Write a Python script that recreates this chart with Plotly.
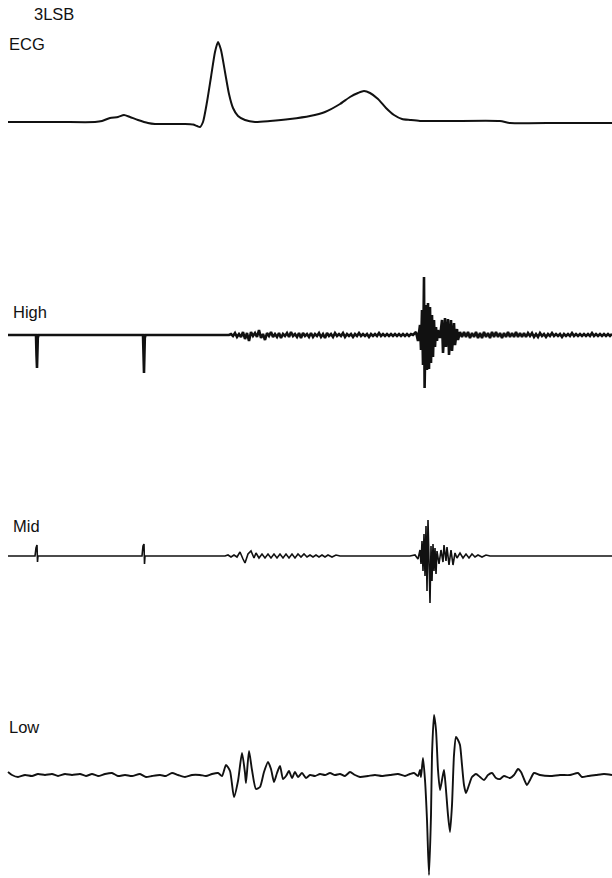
import numpy as np
import plotly.graph_objects as go

W, H = 612, 878

# ---------------- data (time in px-units, amplitude in px-units above baseline) ----
ecg_t = [8, 60, 95, 102, 110, 118, 124, 130, 138, 148, 155, 185, 193, 197, 200, 203, 207, 211,
         215, 218, 221, 225, 229, 233, 238, 245, 255, 270, 290, 310, 325, 340, 350, 358, 364,
         370, 378, 386, 394, 402, 410, 420, 450, 500, 510, 560, 612]
ecg_v = [0, 0, 0, 1, 4, 5, 7, 5, 2, -1, -2, -2, -2.5, -4, -5, 0, 20, 45,
         70, 80, 72, 50, 28, 14, 6, 2, 0, 1, 3, 6, 10, 18, 25, 29, 31,
         29, 23, 14, 7, 3, 2, 1, 1, 1, -1, -1, -1]

high_pre_t = [8, 36, 36.5, 37, 37.8, 38.5, 143, 143.5, 144, 144.8, 145.5, 229]
high_pre_v = [0, 0, -20, -33, -3, 0, 0, -25, -38, -3, 0, 0]
high_noise1_v = [1, -1, 2, -2, 1, -2, 3, -4, 2, -6, 3, -1, 2, -2, 5, -3, 1, -5, 2, -1,
                 3, -2, 1, -2, 2, -3, 1, -1, 2, -2, 3, -1, 1, -2, 2, -3, 2, -1, 1, -2,
                 2, -2, 1, -1, 2, -2, 1, -3, 2, -1, 1, -2, 2, -1, 1, -1, 2, -2, 1, -1,
                 1, -2, 1, -1, 2, -1, 1, -1, 1, -2, 1, -1, 1, -1, 2, -1, 1, -1, 1, -1,
                 1, -1, 1, -1, 1, -1, 1, -1, 1, -1, 1]
high_burst_t = [413, 416, 418, 420, 421, 422, 423, 424, 424.6, 426, 427, 428, 429, 430, 431, 432,
                433, 434, 435, 436, 437, 438, 440, 442, 443, 445, 446, 448, 449, 451, 452,
                454, 455, 457, 458, 460]
high_burst_v = [0, 3, -6, 10, -15, 25, -30, 58, -53, 30, -35, 32, -34, 28, -28, 20,
                -22, 15, -12, 8, -6, 5, -3, 15, -18, 17, -12, 16, -20, 15, -16,
                12, -10, 6, -5, 3]
high_noise2_v = [-2, 3, -2, 3, -3, 2, -2, 3, -3, 2, -3, 3, -2, 2, -3, 3, -2, 3, -2, 2,
                 -3, 2, -2, 3, -2, 2, -2, 3, -2, 2, -2, 2, -2, 2, -1, 2, -2, 1, -2, 2,
                 -1, 1, -2, 1, -1, 2, -1, 1, -1, 1, -2, 1, -1, 1, -1, 2, -1, 1, -1, 1,
                 -1, 1, -1, 1, -1, 2, -1, 1, -1, 1, -1, 1, -1, 1, -1, 1]

mid_t = [8, 35, 36, 37, 37.5, 38, 142, 143, 144, 144.5, 145, 225, 228, 231, 234, 237, 240, 243,
         245, 248, 251, 254, 256, 259, 262, 265, 268, 271, 274, 277, 280, 283, 286, 289, 292,
         295, 298, 301, 304, 307, 310, 313, 316, 319, 322, 325, 328, 332, 336, 340, 380, 410,
         415, 418, 420, 421, 422, 423, 424, 425, 426, 427, 428, 429, 430, 431, 432, 433, 434,
         435, 436, 437, 439, 441, 443, 444, 446, 447, 449, 451, 452, 453, 455, 457, 460, 463,
         466, 469, 472, 475, 478, 482, 486, 490, 500, 520, 540, 560, 580, 612]
mid_v = [0, 0, 8, 11, -6, 0, 0, 10, 12, -8, 0, 0, 1, -1, 1, -1, 4, -3,
         -7, 2, 5, -2, 3, -2, 2, -2, 2, -2, 2, -2, 2, -2, 2, -2, 2,
         -2, 2, -1, 2, -1, 1, -1, 1, -1, 1, -1, 1, -1, 1, 0, 0, 0,
         1, -3, 6, -8, 15, -15, 22, -20, 30, -35, 36, -20, -47, 10, -25, 12, -15,
         8, -18, 5, -8, 6, -6, 11, -5, 9, -9, 6, -4, -9, 3, -2, 3, -2,
         2, -2, 2, -1, 1, -1, 1, 0, 0, 0, 0, 0, 0, 0, 0]

low_t = [8, 12, 18, 25, 32, 38, 45, 52, 58, 65, 72, 80, 86, 92, 98, 105, 112, 118, 125, 132,
         140, 146, 152, 160, 166, 172, 178, 185, 192, 200, 206, 212, 218, 222, 226, 230, 234,
         238, 242, 245, 246, 249, 252, 256, 260, 264, 268, 271, 274, 277, 280, 283, 286, 289,
         292, 295, 298, 302, 306, 310, 315, 320, 325, 330, 335, 340, 345, 350, 355, 360, 368,
         375, 382, 390, 398, 405, 410, 414, 418, 420, 421, 423, 425, 427, 429, 431, 432, 434,
         436, 438, 440, 442, 444, 446, 448, 450, 452, 454, 456, 458, 460, 462, 464, 466, 469,
         472, 476, 480, 484, 488, 492, 496, 500, 504, 510, 514, 518, 521, 524, 527, 530, 534,
         540, 550, 560, 570, 578, 582, 588, 596, 604, 612]
low_v = [3, 0, -2, 0, -1, 1, 0, 1, -1, 1, 0, 1, -1, 1, -1, 1, 2, -1, 0, -1,
         1, -2, -1, 0, -1, 2, 0, -2, 0, 0, -1, 1, 2, -1, 10, 4, -22,
         -6, 22, 2, -8, 24, 5, -14, -12, 3, 13, 6, -7, 2, 9, -4, -1, 4,
         -3, 3, -2, 2, -3, 0, -1, 1, 0, 2, 0, 1, -1, 3, 0, -2, -1,
         0, -1, 0, 1, -1, 1, 2, -1, 5, -2, 17, -5, -45, -100, -40, 20, 60,
         45, 5, -15, -5, 5, -15, -40, -57, -30, 20, 38, 35, 30, 10, -10, -18, -10,
         -2, 1, -2, -5, 0, 2, -3, -4, -1, -3, 0, 6, 3, -4, -10, -5, 2,
         0, -1, 0, 0, 2, -2, -1, 0, 1, 0]

labels = ["3LSB", "ECG", "High", "Mid", "Low"]

# ---------------- layout (pixel geometry) ----------------
# panel: (top_px, bottom_px, baseline_px)
panels = {
    "ecg": (0, 210, 122),
    "high": (225, 430, 335),
    "mid": (440, 660, 556),
    "low": (670, 878, 775),
}

high_t = (high_pre_t
          + list(231 + 2 * np.arange(len(high_noise1_v)))
          + high_burst_t
          + list(462 + 2 * np.arange(len(high_noise2_v))))
high_v = high_pre_v + high_noise1_v + high_burst_v + high_noise2_v

series = [
    ("ecg", ecg_t, ecg_v, 2.0, "spline"),
    ("high", high_t, high_v, 2.6, "linear"),
    ("mid", mid_t, mid_v, 1.6, "linear"),
    ("low", low_t, low_v, 1.9, "spline"),
]

fig = go.Figure()
layout_axes = {}
for i, (key, t, v, lw, shp) in enumerate(series):
    top, bot, base = panels[key]
    yname = "y" if i == 0 else f"y{i+1}"
    line = dict(color="#111111", width=lw, shape=shp)
    if shp == "spline":
        line["smoothing"] = 0.6
    fig.add_trace(go.Scatter(x=t, y=v, mode="lines", xaxis="x", yaxis=yname,
                             line=line, hoverinfo="skip", showlegend=False))
    axkey = "yaxis" if i == 0 else f"yaxis{i+1}"
    layout_axes[axkey] = dict(domain=[1 - bot / H, 1 - top / H],
                              range=[base - bot, base - top],
                              visible=False, fixedrange=True)

fig.update_layout(
    width=W, height=H,
    margin=dict(l=0, r=0, t=0, b=0),
    paper_bgcolor="white", plot_bgcolor="white",
    xaxis=dict(domain=[0, 1], range=[0, W], visible=False, fixedrange=True),
    **layout_axes,
)

label_pos = [(32, 14), (7, 44), (11, 312), (11, 526), (7, 727)]
for txt, (lx, ly) in zip(labels, label_pos):
    fig.add_annotation(text=txt, x=lx / W, y=1 - ly / H, xref="paper", yref="paper",
                       xanchor="left", yanchor="middle", showarrow=False,
                       font=dict(family="Liberation Sans, Arial, sans-serif", size=16.5,
                                 color="#111111"))

fig.write_html("out.html", config={"displayModeBar": False},
               post_script="document.body.style.margin='0px';document.body.style.overflow='hidden';")
